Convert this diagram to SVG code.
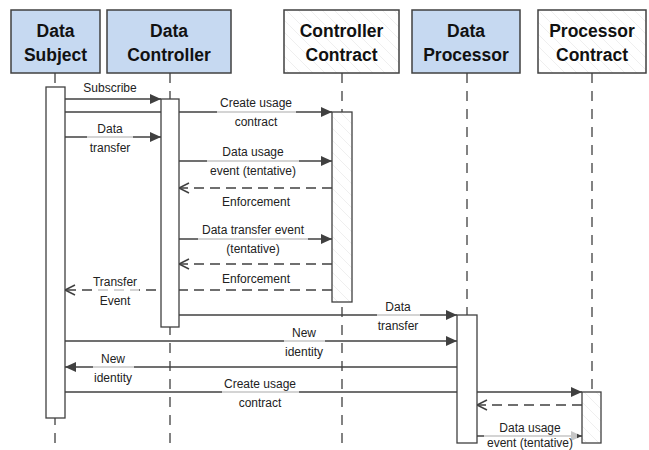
<svg xmlns="http://www.w3.org/2000/svg" width="649" height="450" viewBox="0 0 649 450">
<style>
.hdr{stroke:#404040;stroke-width:1.5}
.blue{fill:#c6d9f1}
.white{fill:url(#hatch)}
.ht{font-family:"Liberation Sans",Arial,sans-serif;font-weight:bold;font-size:17.5px;fill:#111;text-anchor:middle}
.life{stroke:#404040;stroke-width:1.3;stroke-dasharray:10 8;fill:none}
.act{fill:#fff;stroke:#404040;stroke-width:1.3}
.acth{fill:url(#hatch);stroke:#404040;stroke-width:1.3}
.msg{stroke:#404040;stroke-width:1.5;fill:none}
.sync{marker-end:url(#fill)}
.ret{stroke-dasharray:10 6;marker-end:url(#open)}
.lt{font-family:"Liberation Sans",Arial,sans-serif;font-size:12px;fill:#222;text-anchor:middle}
.lb{fill:#fff;opacity:0.7}
</style>
<defs>
<pattern id="hatch" patternUnits="userSpaceOnUse" width="12" height="12">
<rect width="12" height="12" fill="#fff"/>
<path d="M-3,-3 L15,15" stroke="#efefef" stroke-width="1"/>
</pattern>
<marker id="fill" markerUnits="userSpaceOnUse" markerWidth="12" markerHeight="10" viewBox="0 0 12 10" refX="11" refY="5" orient="auto" overflow="visible">
<path d="M0,0 L11,5 L0,10 z" fill="#404040"/>
</marker>
<marker id="open" markerUnits="userSpaceOnUse" markerWidth="12" markerHeight="12" viewBox="0 0 12 12" refX="11" refY="6" orient="auto" overflow="visible">
<path d="M1,1 L11,6 L1,11" fill="none" stroke="#404040" stroke-width="1.5"/>
</marker>
</defs>
<rect width="649" height="450" fill="#fff"/>

<g id="lifelines">
<line class="life" x1="55" y1="73" x2="55" y2="450"/>
<line class="life" x1="170" y1="73" x2="170" y2="450"/>
<line class="life" x1="342" y1="73" x2="342" y2="450"/>
<line class="life" x1="467" y1="73" x2="467" y2="450"/>
<line class="life" x1="592" y1="73" x2="592" y2="450"/>
</g>

<g id="connectors">
<line class="msg sync" x1="65" y1="99" x2="161" y2="99"/>
<line class="msg sync" x1="65" y1="112" x2="332" y2="112"/>
<line class="msg sync" x1="65" y1="137" x2="161" y2="137"/>
<line class="msg sync" x1="179" y1="161" x2="332" y2="161"/>
<line class="msg ret" x1="332" y1="188" x2="179" y2="188"/>
<line class="msg sync" x1="179" y1="239" x2="332" y2="239"/>
<line class="msg ret" x1="332" y1="264" x2="179" y2="264"/>
<line class="msg ret" x1="332" y1="290" x2="65" y2="290"/>
<line class="msg sync" x1="179" y1="315" x2="457" y2="315"/>
<line class="msg sync" x1="65" y1="341" x2="457" y2="341"/>
<line class="msg sync" x1="457" y1="367" x2="65" y2="367"/>
<line class="msg sync" x1="65" y1="392" x2="582" y2="392"/>
<line class="msg ret" x1="582" y1="405" x2="477" y2="405"/>
<line class="msg sync" x1="477" y1="436" x2="582" y2="436"/>
</g>

<g id="activations">
<rect id="act-subject" class="act" x="46" y="87" width="19" height="331"/>
<rect id="act-controller" class="act" x="161" y="99" width="18" height="228"/>
<rect id="act-ccontract" class="acth" x="332" y="112" width="20" height="190"/>
<rect id="act-processor" class="act" x="457" y="315" width="20" height="128"/>
<rect id="act-pcontract" class="acth" x="582" y="392" width="19" height="51"/>
</g>

<g id="labels">
<text class="lt" x="110" y="92">Subscribe</text>
<rect class="lb" x="217" y="110" width="79" height="4"/>
<text class="lt" x="256" y="107">Create usage</text>
<text class="lt" x="256" y="126">contract</text>
<rect class="lb" x="87" y="135" width="46" height="4"/>
<text class="lt" x="110" y="133">Data</text>
<text class="lt" x="110" y="152">transfer</text>
<rect class="lb" x="207" y="159" width="92" height="4"/>
<text class="lt" x="253" y="156">Data usage</text>
<text class="lt" x="253" y="175">event (tentative)</text>
<text class="lt" x="256" y="206">Enforcement</text>
<rect class="lb" x="198" y="237" width="110" height="4"/>
<text class="lt" x="253" y="234">Data transfer event</text>
<text class="lt" x="253" y="253">(tentative)</text>
<text class="lt" x="256" y="283">Enforcement</text>
<rect class="lb" x="92" y="288" width="47" height="4"/>
<text class="lt" x="115" y="286">Transfer</text>
<text class="lt" x="115" y="305">Event</text>
<rect class="lb" x="377" y="313" width="43" height="4"/>
<text class="lt" x="398" y="311">Data</text>
<text class="lt" x="398" y="330">transfer</text>
<rect class="lb" x="284" y="339" width="41" height="4"/>
<text class="lt" x="304" y="337">New</text>
<text class="lt" x="304" y="356">identity</text>
<rect class="lb" x="93" y="365" width="41" height="4"/>
<text class="lt" x="113" y="363">New</text>
<text class="lt" x="113" y="382">identity</text>
<rect class="lb" x="222" y="390" width="77" height="4"/>
<text class="lt" x="260" y="388">Create usage</text>
<text class="lt" x="260" y="407">contract</text>
<rect class="lb" x="484" y="431" width="93" height="10"/>
<text class="lt" x="530" y="432">Data usage</text>
<text class="lt" x="530" y="447">event (tentative)</text>
</g>

<g id="node-data-subject">
<rect class="hdr blue" x="11" y="10" width="89" height="63"/>
<text class="ht" x="55.5" y="37">Data</text>
<text class="ht" x="55.5" y="61">Subject</text>
</g>
<g id="node-data-controller">
<rect class="hdr blue" x="107" y="10" width="124" height="63"/>
<text class="ht" x="169" y="37">Data</text>
<text class="ht" x="169" y="61">Controller</text>
</g>
<g id="node-controller-contract">
<rect class="hdr white" x="284" y="10" width="115" height="63"/>
<text class="ht" x="341.5" y="37">Controller</text>
<text class="ht" x="341.5" y="61">Contract</text>
</g>
<g id="node-data-processor">
<rect class="hdr blue" x="412" y="10" width="108" height="63"/>
<text class="ht" x="466" y="37">Data</text>
<text class="ht" x="466" y="61">Processor</text>
</g>
<g id="node-processor-contract">
<rect class="hdr white" x="538" y="10" width="108" height="63"/>
<text class="ht" x="592" y="37">Processor</text>
<text class="ht" x="592" y="61">Contract</text>
</g>
</svg>
